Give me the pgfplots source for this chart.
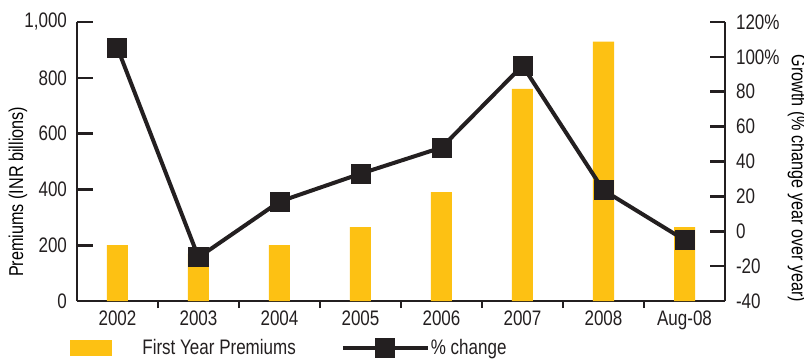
\documentclass[border=0pt]{standalone}
\usepackage{fontspec}
\setmainfont{Liberation Sans}[FakeStretch=0.81]
\usepackage{pgfplots}
\pgfplotsset{compat=1.18}

\definecolor{barcol}{RGB}{253,193,19}
\definecolor{ink}{RGB}{35,31,32}
\newcommand\lbl{\fontsize{10.5}{12}\selectfont}

\pgfplotsset{
  common/.style={
    scale only axis, width=324pt, height=139.5pt,
    xmin=-0.5, xmax=7.5,
    axis line style={ink, line width=1.3pt, -},
    tick align=inside,
    tick style={ink, line width=1.3pt},
    tick label style={font=\lbl, text=ink},
    label style={font=\lbl, text=ink},
  },
  barlegend/.style={legend image code/.code={
    \fill[barcol] (0pt,-3.75pt) rectangle (20.5pt,3.75pt);
    \path[draw=none, fill=none] (0pt,0pt) -- (36pt,0pt);}},
  linelegend/.style={legend image code/.code={
    \draw[mark repeat=2, mark phase=2, ##1] plot coordinates {(0pt,0pt) (21.25pt,0pt) (42.5pt,0pt)};
    \path[draw=none, fill=none] (0pt,0pt) -- (44pt,0pt);}},
}

\begin{document}
\begin{tikzpicture}
\useasboundingbox (-38.5pt,-29.5pt) rectangle (363.5pt,150.5pt);

% First-year premiums (left axis, INR billions)
\begin{axis}[
  common,
  ybar, bar width=10.5pt,
  ymin=0, ymax=1000,
  axis x line*=bottom, axis y line*=left,
  major tick length=8pt,
  ytick={0,200,400,600,800,1000},
  yticklabels={0,200,400,600,800,{1,000}},
  yticklabel style={xshift=-1.5pt},
  xtick={0,1,2,3,4,5,6,7},
  xticklabels={2002,2003,2004,2005,2006,2007,2008,Aug-08},
  major x tick style={draw=none},
  minor xtick={0.5,1.5,2.5,3.5,4.5,5.5,6.5},
  minor tick length=3.5pt,
  minor x tick style={ink, line width=1.3pt},
  xticklabel style={yshift=6.5pt},
  ylabel={Premiums (INR billions)},
  every axis y label/.style={at={(axis description cs:-0.091,0.391)}, rotate=90, anchor=center},
]
\addplot[fill=barcol, draw=none] coordinates {
  (0,200) (1,170) (2,200) (3,265) (4,390) (5,760) (6,930) (7,265)
};
\end{axis}

% Year-over-year growth (right axis, %)
\begin{axis}[
  common,
  ymin=-40, ymax=120,
  axis y line*=right, axis x line=none,
  yticklabel pos=right,
  major tick length=7.5pt,
  ytick={-40,-20,0,20,40,60,80,100,120},
  yticklabels={-40,-20,0,20,40,60,80,100\%,120\%},
  yticklabel style={xshift=2pt},
  ylabel={Growth (\% change year over year)},
  every axis y label/.style={at={(axis description cs:1.111,0.439)}, rotate=-90, anchor=center},
  legend style={at={(axis description cs:-0.0108,-0.1685)}, anchor=west,
    draw=none, fill=none, inner sep=0pt, outer sep=0pt,
    font=\lbl, text=ink, column sep=0pt, nodes={inner sep=0pt},
    /tikz/every even column/.append style={column sep=22.5pt}},
  legend columns=2,
  legend cell align=left,
]
\addlegendimage{barlegend}
\addplot[ink, line width=2pt, mark=square*, mark size=4pt, mark options={solid}, linelegend]
  coordinates {
  (0,105) (1,-15) (2,17) (3,33) (4,48) (5,95) (6,23.5) (7,-5)
};
\legend{First Year Premiums, \% change}
\end{axis}
\end{tikzpicture}
\end{document}
